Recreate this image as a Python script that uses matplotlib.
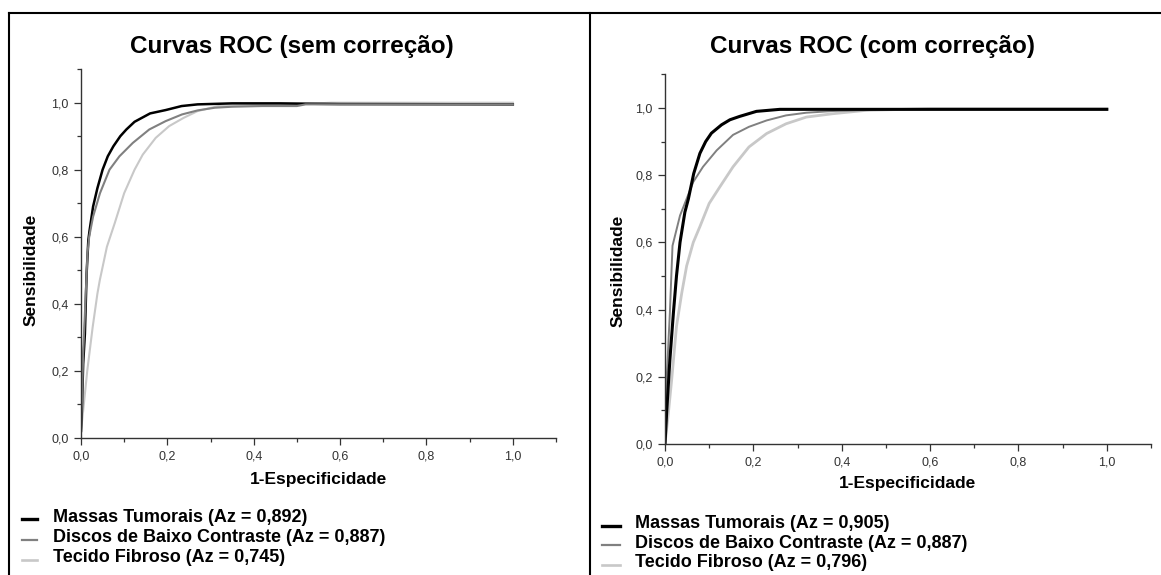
import matplotlib
matplotlib.use("Agg")
import matplotlib.pyplot as plt
from matplotlib.lines import Line2D
from matplotlib.ticker import MultipleLocator, FuncFormatter

plt.rcParams["font.family"] = ["Liberation Sans", "DejaVu Sans"]

W, H = 1161, 575

titles = ["Curvas ROC (sem correção)", "Curvas ROC (com correção)"]
xlabel = "1-Especificidade"
ylabel = "Sensibilidade"
series_names = ["Massas Tumorais", "Discos de Baixo Contraste", "Tecido Fibroso"]
az_sem = ["0,892", "0,887", "0,745"]
az_com = ["0,905", "0,887", "0,796"]

# --- sem correcao ---
massas_sem_x = [0, 0.002, 0.005, 0.009, 0.013, 0.017, 0.02, 0.028, 0.038, 0.05, 0.062, 0.075,
                0.091, 0.105, 0.124, 0.16, 0.196, 0.233, 0.27, 0.35, 0.46, 0.6, 1.0]
massas_sem_y = [0.02, 0.08, 0.22, 0.31, 0.49, 0.59, 0.62, 0.69, 0.745, 0.80, 0.84, 0.87,
                0.90, 0.92, 0.943, 0.968, 0.978, 0.99, 0.995, 0.998, 0.998, 0.996, 0.995]
discos_sem_x = [0, 0.002, 0.005, 0.01, 0.015, 0.019, 0.028, 0.044, 0.066, 0.089, 0.12,
                0.158, 0.196, 0.234, 0.27, 0.31, 0.35, 0.42, 0.5, 0.52, 1.0]
discos_sem_y = [0.03, 0.10, 0.25, 0.40, 0.55, 0.60, 0.66, 0.73, 0.80, 0.84, 0.88,
                0.92, 0.945, 0.965, 0.977, 0.985, 0.988, 0.99, 0.99, 0.995, 0.995]
tecido_sem_x = [0, 0.005, 0.0145, 0.027, 0.038, 0.0435, 0.06, 0.078, 0.10, 0.124, 0.143,
                0.173, 0.204, 0.238, 0.27, 0.318, 0.4, 0.5, 0.58, 1.0]
tecido_sem_y = [0.02, 0.08, 0.20, 0.33, 0.43, 0.47, 0.57, 0.64, 0.73, 0.80, 0.845,
                0.895, 0.93, 0.955, 0.975, 0.99, 0.993, 0.995, 1.0, 1.0]

# --- com correcao ---
massas_com_x = [0, 0.004, 0.011, 0.019, 0.026, 0.034, 0.045, 0.053, 0.065, 0.079, 0.092,
                0.105, 0.128, 0.147, 0.169, 0.207, 0.26, 1.0]
massas_com_y = [0.0, 0.10, 0.25, 0.39, 0.50, 0.60, 0.69, 0.73, 0.805, 0.865, 0.90,
                0.925, 0.95, 0.965, 0.975, 0.99, 0.996, 0.996]
discos_com_x = [0, 0.004, 0.011, 0.017, 0.034, 0.049, 0.064, 0.086, 0.117, 0.154, 0.19,
                0.23, 0.274, 0.32, 0.38, 0.52, 1.0]
discos_com_y = [0.0, 0.20, 0.39, 0.59, 0.68, 0.73, 0.78, 0.825, 0.874, 0.92, 0.944,
                0.963, 0.978, 0.986, 0.991, 0.996, 0.996]
tecido_com_x = [0, 0.0075, 0.015, 0.026, 0.038, 0.049, 0.064, 0.079, 0.10, 0.124, 0.154,
                0.19, 0.23, 0.274, 0.32, 0.38, 0.455, 0.6, 1.0]
tecido_com_y = [0.0, 0.09, 0.19, 0.35, 0.45, 0.53, 0.60, 0.647, 0.716, 0.765, 0.825,
                0.884, 0.924, 0.953, 0.973, 0.983, 0.993, 0.998, 0.998]

colors = ["#000000", "#808080", "#c8c8c8"]
ink = "#333333"

fig = plt.figure(figsize=(W / 100, H / 100), dpi=100)


def fx(px):
    return px / W


def fy(py):
    return 1 - py / H


panels = [
    dict(rect=[fx(81), fy(437.7), fx(475), 368.5 / H], title_xy=(292, 47),
         curves=[(tecido_sem_x, tecido_sem_y, 2, 1.5), (massas_sem_x, massas_sem_y, 0, 1.8),
                 (discos_sem_x, discos_sem_y, 1, 1.5)],
         az=az_sem, ylab_x=-0.09, ylab_y=0.455, xlab_y=-0.093,
         leg_line=(21.5, 37), leg_text=53, leg_line_y=[519, 540, 560], leg_base=[522, 542, 562]),
    dict(rect=[fx(665), fy(444), fx(486), 369.6 / H], title_xy=(873, 47),
         curves=[(tecido_com_x, tecido_com_y, 2, 2.0), (discos_com_x, discos_com_y, 1, 1.4),
                 (massas_com_x, massas_com_y, 0, 2.2)],
         az=az_com, ylab_x=-0.082, ylab_y=0.468, xlab_y=-0.087,
         leg_line=(602, 620), leg_text=635, leg_line_y=[526, 545, 565], leg_base=[528, 548, 567]),
]

for p, title in zip(panels, titles):
    ax = fig.add_axes(p["rect"])
    for xs, ys, ci, lw in p["curves"]:
        ax.plot(xs, ys, color=colors[ci], lw=lw, solid_joinstyle="round")
    ax.set_xlim(0, 1.1)
    ax.set_ylim(0, 1.1)
    ax.spines["top"].set_visible(False)
    ax.spines["right"].set_visible(False)
    for s in ["left", "bottom"]:
        ax.spines[s].set_color(ink)
        ax.spines[s].set_linewidth(1.0)
    ax.xaxis.set_major_locator(MultipleLocator(0.2))
    ax.xaxis.set_minor_locator(MultipleLocator(0.1))
    ax.yaxis.set_major_locator(MultipleLocator(0.2))
    ax.yaxis.set_minor_locator(MultipleLocator(0.1))
    fmt = FuncFormatter(lambda v, _: f"{v:.1f}".replace(".", ","))
    ax.xaxis.set_major_formatter(fmt)
    ax.yaxis.set_major_formatter(fmt)
    ax.tick_params(which="major", direction="out", length=5, width=0.9, color=ink,
                   labelsize=9, labelcolor=ink, pad=4)
    ax.tick_params(which="minor", direction="out", length=3, width=0.9, color=ink)
    ax.set_xticks([0, 0.2, 0.4, 0.6, 0.8, 1.0])
    ax.set_yticks([0, 0.2, 0.4, 0.6, 0.8, 1.0])
    ax.set_xlabel(xlabel, fontsize=12.5, fontweight="bold")
    ax.xaxis.set_label_coords(0.5, p["xlab_y"])
    ax.set_ylabel(ylabel, fontsize=12.5, fontweight="bold")
    ax.yaxis.set_label_coords(p["ylab_x"], p["ylab_y"])

    tx, ty = p["title_xy"]
    fig.text(fx(tx), fy(ty), title, fontsize=17.5, fontweight="bold",
             ha="center", va="center")

    # legend drawn below the axes
    for i, name in enumerate(series_names):
        lw = [2.4, 1.6, 1.9][i]
        fig.add_artist(Line2D([fx(p["leg_line"][0]), fx(p["leg_line"][1])],
                              [fy(p["leg_line_y"][i])] * 2, color=colors[i], lw=lw,
                              transform=fig.transFigure))
        fig.text(fx(p["leg_text"]), fy(p["leg_base"][i]), f"{name} (Az = {p['az'][i]})",
                 fontsize=13, fontweight="bold", ha="left", va="baseline")

# panel frames
frame_kw = dict(color="black", lw=1.5, transform=fig.transFigure)
fig.add_artist(Line2D([fx(9), fx(9)], [fy(13), 0], **frame_kw))
fig.add_artist(Line2D([fx(589.5), fx(589.5)], [fy(13), 0], **frame_kw))
fig.add_artist(Line2D([fx(9), 1], [fy(13), fy(13)], **frame_kw))

fig.savefig("out.png", dpi=100)
